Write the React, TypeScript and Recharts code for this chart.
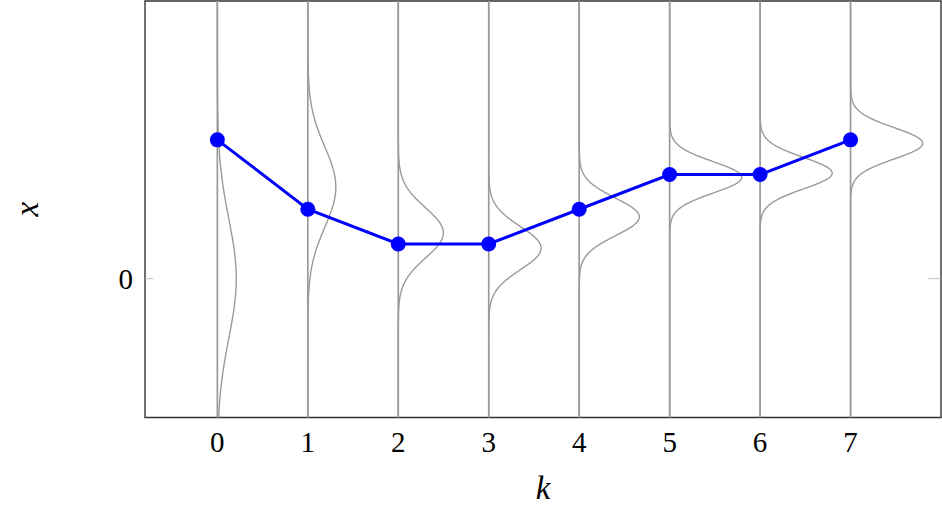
import {
  LineChart,
  Line,
  XAxis,
  YAxis,
  ReferenceLine,
  ReferenceArea,
  Label,
} from "recharts";

// time steps and the estimate at each step
const steps = [0, 1, 2, 3, 4, 5, 6, 7];
const estimates = [2, 1, 0.5, 0.5, 1, 1.5, 1.5, 2];

// belief distribution drawn at each step (mean, spread)
const beliefMeans = [0, 1.32, 0.66, 0.44, 0.89, 1.46, 1.52, 1.95];
const beliefSigmas = [0.86, 0.58, 0.36, 0.31, 0.27, 0.225, 0.225, 0.225];

const xTicks = [0, 1, 2, 3, 4, 5, 6, 7];
const yTicks = [0];

const curveScale = 0.45;
const yGrid = Array.from({ length: 301 }, (_, i) => -2 + i * 0.02);

const serif = "Liberation Serif, DejaVu Serif, serif";
const gray = "#9a9a9a";

const density = (y: number, m: number, s: number) =>
  Math.exp(-((y - m) ** 2) / (2 * s * s)) / (s * Math.sqrt(2 * Math.PI));

const beliefCurves = steps.map((k, i) =>
  yGrid.map((y) => ({
    x: k + curveScale * density(y, beliefMeans[i], beliefSigmas[i]),
    y,
  }))
);

const estimateData = steps.map((k, i) => ({ x: k, y: estimates[i] }));

const tickStyle = { fontSize: 29, fill: "#000", fontFamily: serif, style: { fontFamily: serif } };

export default function App() {
  return (
    <div
      style={{
        position: "absolute",
        left: 0,
        top: 0,
        background: "#fff",
        fontFamily: serif,
      }}
    >
      <LineChart
        width={942}
        height={514}
        margin={{ top: 1, right: 1, bottom: 0, left: 0 }}
        style={{ fontFamily: serif }}
      >
        <XAxis
          type="number"
          dataKey="x"
          domain={[-0.8, 8]}
          allowDataOverflow
          ticks={xTicks}
          axisLine={false}
          tickLine={false}
          tickSize={0}
          tickMargin={14}
          height={96.5}
          tick={tickStyle}
        >
          <Label
            value="k"
            position="insideBottom"
            offset={15}
            style={{ fontSize: 33, fontStyle: "italic", fill: "#000", fontFamily: serif }}
          />
        </XAxis>
        <YAxis
          type="number"
          dataKey="y"
          domain={[-2, 4]}
          allowDataOverflow
          ticks={yTicks}
          axisLine={false}
          tickLine={false}
          tickSize={0}
          tickMargin={12}
          width={145}
          tick={tickStyle}
        >
          <Label
            content={(props: any) => {
              const vb = props.viewBox || {};
              const cx = 38;
              const cy = (vb.y ?? 0) + (vb.height ?? 0) / 2;
              return (
                <text
                  x={cx}
                  y={cy}
                  textAnchor="middle"
                  transform={`rotate(-90, ${cx}, ${cy})`}
                  style={{ fontSize: 33, fontStyle: "italic", fontFamily: serif }}
                  fill="#000"
                >
                  x
                </text>
              );
            }}
          />
        </YAxis>

        {steps.map((k) => (
          <ReferenceLine key={`v${k}`} x={k} stroke={gray} strokeWidth={1.7} />
        ))}

        {beliefCurves.map((curve, i) => (
          <Line
            key={`c${i}`}
            data={curve}
            dataKey="y"
            type="linear"
            stroke={gray}
            strokeWidth={1.4}
            dot={false}
            activeDot={false}
            isAnimationActive={false}
          />
        ))}

        <Line
          data={estimateData}
          dataKey="y"
          type="linear"
          stroke="#0000ff"
          strokeWidth={3}
          dot={{ r: 7.5, fill: "#0000ff", stroke: "none" }}
          activeDot={false}
          isAnimationActive={false}
        />

        <ReferenceLine
          segment={[
            { x: -0.8, y: 0 },
            { x: -0.71, y: 0 },
          ]}
          stroke="#bdbdbd"
          strokeWidth={1}
        />
        <ReferenceLine
          segment={[
            { x: 7.86, y: 0 },
            { x: 8, y: 0 },
          ]}
          stroke="#bdbdbd"
          strokeWidth={1}
        />

        <ReferenceArea
          x1={-0.8}
          x2={8}
          y1={-2}
          y2={4}
          fill="none"
          fillOpacity={0}
          stroke="#333"
          strokeWidth={1.4}
        />
      </LineChart>
    </div>
  );
}
